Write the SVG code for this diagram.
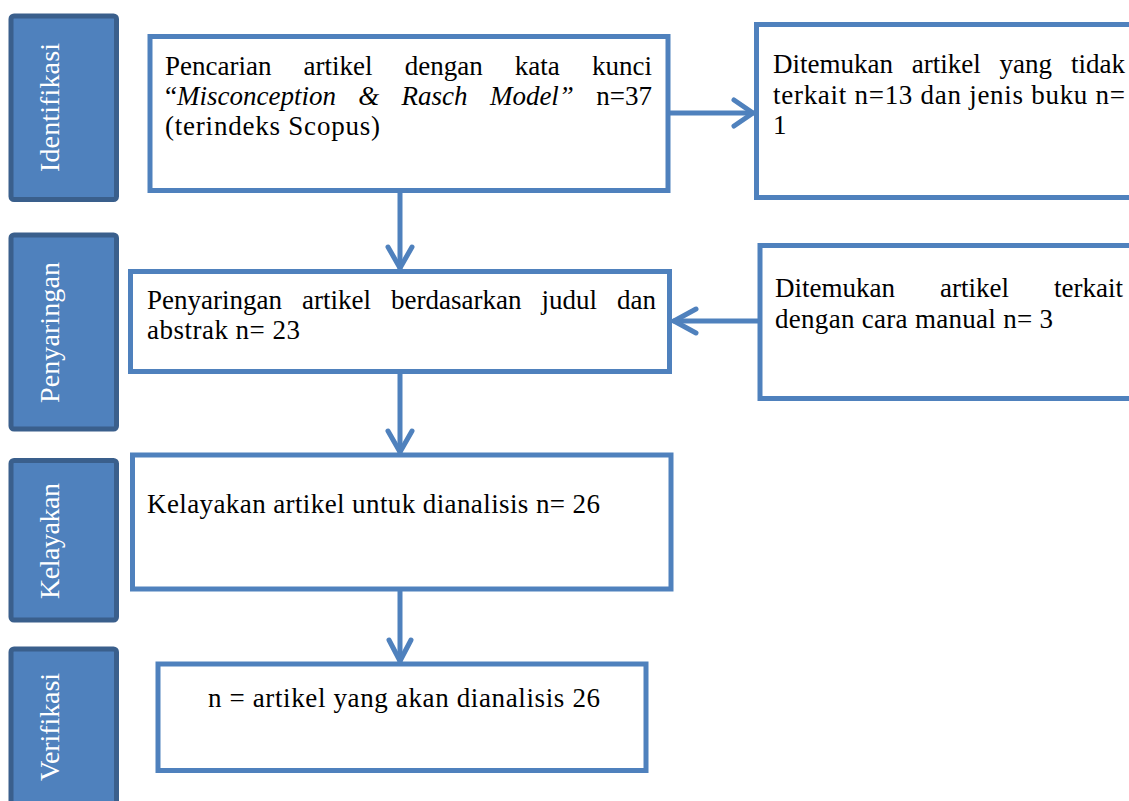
<svg xmlns="http://www.w3.org/2000/svg" width="1129" height="801" viewBox="0 0 1129 801">
<style>
.side{fill:#4F81BD;stroke:#3A5F8C;stroke-width:5}
.stxt{font-family:"Liberation Serif","Times New Roman",serif;font-size:28px;fill:#FFFFFF}
.box{fill:#FFFFFF;stroke:#4F81BD;stroke-width:5}
.t{font-family:"Liberation Serif","Times New Roman",serif;font-size:27px;fill:#000000}
.i{font-style:italic}
.e{text-anchor:end}
.conn{fill:none;stroke:#4F81BD;stroke-width:5;stroke-linecap:round;stroke-linejoin:round}
</style>
<rect width="1129" height="801" fill="#FFFFFF"/>

<g id="side-identifikasi">
<rect class="side" x="11" y="16" width="105.5" height="183.5" rx="3"/>
<text class="stxt" transform="translate(58.5,107.5) rotate(-90)" text-anchor="middle" textLength="129" lengthAdjust="spacing">Identifikasi</text>
</g>
<g id="side-penyaringan">
<rect class="side" x="11" y="235" width="105.5" height="194" rx="3"/>
<text class="stxt" transform="translate(58.5,332.5) rotate(-90)" text-anchor="middle" textLength="141" lengthAdjust="spacing">Penyaringan</text>
</g>
<g id="side-kelayakan">
<rect class="side" x="11" y="460.5" width="105.5" height="159.5" rx="3"/>
<text class="stxt" transform="translate(58.5,541) rotate(-90)" text-anchor="middle" textLength="116" lengthAdjust="spacing">Kelayakan</text>
</g>
<g id="side-verifikasi">
<rect class="side" x="11" y="649" width="105.5" height="170" rx="3"/>
<text class="stxt" transform="translate(58.5,727) rotate(-90)" text-anchor="middle" textLength="108" lengthAdjust="spacing">Verifikasi</text>
</g>

<g id="connectors">
<path class="conn" d="M400,192 L400,268"/>
<path class="conn" d="M388,247 L400,268 L412,247"/>
<path class="conn" d="M400,374 L400,452"/>
<path class="conn" d="M388,431 L400,452 L412,431"/>
<path class="conn" d="M400,591 L400,661"/>
<path class="conn" d="M389,640 L400,661 L411,640"/>
<path class="conn" d="M670,113 L753,113"/>
<path class="conn" d="M734,100 L753,113 L734,126"/>
<path class="conn" d="M758,321 L674,321"/>
<path class="conn" d="M696,309 L674,321 L696,333"/>
</g>

<g id="box-pencarian">
<rect class="box" x="150" y="36.5" width="518" height="154"/>
<text class="t" x="165" y="75">Pencarian</text>
<text class="t" x="303.6" y="75">artikel</text>
<text class="t" x="404.7" y="75">dengan</text>
<text class="t" x="514.8" y="75">kata</text>
<text class="t e" x="652" y="75">kunci</text>
<text class="t" x="165" y="105">“<tspan class="i">Misconception</tspan></text>
<text class="t i" x="358.3" y="105">&amp;</text>
<text class="t i" x="401.6" y="105">Rasch</text>
<text class="t i" x="489.9" y="105">Model”</text>
<text class="t e" x="652" y="105">n=37</text>
<text class="t" x="165" y="135" textLength="215" lengthAdjust="spacing">(terindeks Scopus)</text>
</g>

<g id="box-tidak-terkait">
<rect class="box" x="756.5" y="24.5" width="400" height="173"/>
<text class="t" x="773" y="73">Ditemukan</text>
<text class="t" x="911.8" y="73">artikel</text>
<text class="t" x="999.6" y="73">yang</text>
<text class="t e" x="1125" y="73">tidak</text>
<text class="t" x="773" y="104" textLength="352" lengthAdjust="spacing">terkait n=13 dan jenis buku n=</text>
<text class="t" x="773" y="134">1</text>
</g>

<g id="box-penyaringan">
<rect class="box" x="130.5" y="271.5" width="539" height="100"/>
<text class="t" x="147" y="309">Penyaringan</text>
<text class="t" x="302" y="309">artikel</text>
<text class="t" x="391" y="309">berdasarkan</text>
<text class="t" x="541.4" y="309">judul</text>
<text class="t e" x="656" y="309">dan</text>
<text class="t" x="147" y="339" textLength="153" lengthAdjust="spacing">abstrak n= 23</text>
</g>

<g id="box-manual">
<rect class="box" x="760" y="245.5" width="400" height="153"/>
<text class="t" x="775" y="297">Ditemukan</text>
<text class="t" x="940" y="297">artikel</text>
<text class="t e" x="1123" y="297">terkait</text>
<text class="t" x="775" y="328" textLength="278" lengthAdjust="spacing">dengan cara manual n= 3</text>
</g>

<g id="box-kelayakan">
<rect class="box" x="132.5" y="455" width="538.5" height="134"/>
<text class="t" x="147" y="513" textLength="453" lengthAdjust="spacing">Kelayakan artikel untuk dianalisis n= 26</text>
</g>

<g id="box-verifikasi">
<rect class="box" x="158" y="664" width="488" height="106.5"/>
<text class="t" x="208" y="707" textLength="392" lengthAdjust="spacing">n = artikel yang akan dianalisis 26</text>
</g>
</svg>
